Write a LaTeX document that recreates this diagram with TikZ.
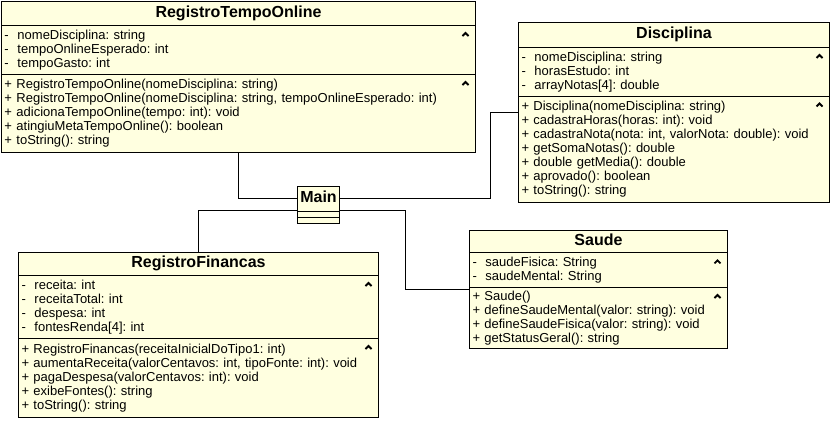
\documentclass[tikz,border=0pt]{standalone}
\usepackage{fontspec}
\setmainfont{Liberation Sans}
\usepackage{tikz}
\usetikzlibrary{calc}
\frenchspacing
\definecolor{umlfill}{RGB}{255,255,224}
\newcommand{\caretmark}[1]{\draw[line width=1.8pt] ($(#1.north east)+(-13.5,11)$) -- ($(#1.north east)+(-10.5,8)$) -- ($(#1.north east)+(-7.5,11)$);}

\begin{document}
\begin{tikzpicture}[x=1pt,y=-1pt,
	umlbox/.style={draw,fill=umlfill,line width=1pt,inner sep=0pt,anchor=north west},
	classname/.style={umlbox,font=\fontsize{16}{18}\selectfont\bfseries,text height=10pt,text depth=2.5pt},
	members/.style={umlbox,font=\fontsize{13}{14}\selectfont,align=left,inner xsep=3pt},
	assoc/.style={line width=1pt}]
	
	\useasboundingbox (0,0) rectangle (831,424);
	
	\node[classname,minimum width=474pt,minimum height=24pt] (t) at (1,1) {RegistroTempoOnline};
	
	\node[members,text width=468pt,minimum height=49pt] (ta) at (1,25) {-~~nomeDisciplina: string\\-~~tempoOnlineEsperado: int\\-~~tempoGasto: int};
	
	\node[members,text width=468pt,minimum height=78pt] (tm) at (1,74) {+ RegistroTempoOnline(nomeDisciplina: string)\\+ RegistroTempoOnline(nomeDisciplina: string, tempoOnlineEsperado: int)\\+ adicionaTempoOnline(tempo: int): void\\+ atingiuMetaTempoOnline(): boolean\\+ toString(): string};
	
	\node[classname,minimum width=311pt,minimum height=25pt] (d) at (518,22) {Disciplina};
	
	\node[members,text width=305pt,minimum height=48.5pt] (da) at (518,47) {-~~nomeDisciplina: string\\-~~horasEstudo: int\\-~~arrayNotas[4]: double};
	
	\node[members,text width=305pt,minimum height=106.5pt] (dm) at (518,95.5) {+ Disciplina(nomeDisciplina: string)\\+ cadastraHoras(horas: int): void\\+ cadastraNota(nota: int, valorNota: double): void\\+ getSomaNotas(): double\\+ double getMedia(): double\\+ aprovado(): boolean\\+ toString(): string};
	
	\node[classname,minimum width=42pt,minimum height=24.7pt] (m) at (297,186) {Main};
	
	\node[umlbox,minimum width=42pt,minimum height=6.3pt] (ma) at (297,210.7) {};
	
	\node[umlbox,minimum width=42pt,minimum height=6pt] (mm) at (297,217) {};
	
	\node[classname,minimum width=360pt,minimum height=23pt] (f) at (18,252) {RegistroFinancas};
	
	\node[members,text width=354pt,minimum height=63pt] (fa) at (18,275) {-~~receita: int\\-~~receitaTotal: int\\-~~despesa: int\\-~~fontesRenda[4]: int};
	
	\node[members,text width=354pt,minimum height=79pt] (fm) at (18,338) {+ RegistroFinancas(receitaInicialDoTipo1: int)\\+ aumentaReceita(valorCentavos: int, tipoFonte: int): void\\+ pagaDespesa(valorCentavos: int): void\\+ exibeFontes(): string\\+ toString(): string};
	
	\node[classname,minimum width=258pt,minimum height=22.3pt] (s) at (469,230) {Saude};
	
	\node[members,text width=252pt,minimum height=34.7pt] (sa) at (469,252.3) {-~~saudeFisica: String\\-~~saudeMental: String};
	
	\node[members,text width=252pt,minimum height=61pt] (sm) at (469,287) {+ Saude()\\+ defineSaudeMental(valor: string): void\\+ defineSaudeFisica(valor: string): void\\+ getStatusGeral(): string};
	
	\caretmark{ta}
	\caretmark{tm}
	\caretmark{da}
	\caretmark{dm}
	\caretmark{fa}
	\caretmark{fm}
	\caretmark{sa}
	\caretmark{sm}
	
	\draw[assoc] (tm.south) |- (m.west);
	\draw[assoc] (m.east) -- ++(150,0) |- ($(d.north west)!.5!(dm.south west)$);
	\draw[assoc] (ma.north west) -| (f.north);
	\draw[assoc] (ma.north east) -- ++(65,0) |- ($(s.north west)!.5!(sm.south west)$);
	
\end{tikzpicture}
\end{document}
